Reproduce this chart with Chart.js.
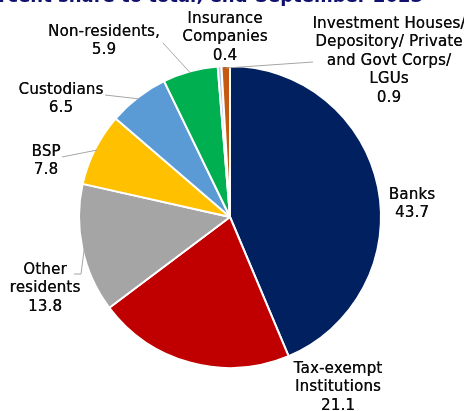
<!DOCTYPE html>
<html lang="en">

<head>
    <meta charset="UTF-8" />
    <title>Holders of government securities</title>
    <style>
        html, body { margin: 0; padding: 0; background: #fff; }
        #wrapper { width: 464px; height: 411px; position: relative; }
    </style>
</head>

<body>
    <div id="wrapper">
        <canvas id="chart"></canvas>
    </div>

    <script src="https://cdn.jsdelivr.net/npm/chart.js@4.4.0/dist/chart.umd.min.js"></script>
    <script>
        // holders, clockwise from 12 o'clock
        const holders = [
            ["Banks"],
            ["Tax-exempt", "Institutions"],
            ["Other", "residents"],
            ["BSP"],
            ["Custodians"],
            ["Non-residents,"],
            ["Insurance", "Companies"],
            ["Investment Houses/", "Depository/ Private", "and Govt Corps/", "LGUs"]
        ];
        const shares = [43.7, 21.1, 13.8, 7.8, 6.5, 5.9, 0.4, 0.9];
        const sliceColors = ["#002060", "#c00000", "#a5a5a5", "#ffc000", "#5b9bd5", "#00b050", "#b4c7e7", "#c55a11"];

        const titleText = "percent share to total; end-September 2023";

        // where each label block sits (centre x, first line y) and where its leader line ends
        const labelSpots = [
            { x: 412, y: 195 },
            { x: 338, y: 369 },
            { x: 45, y: 270, line: [[81, 274], [74, 274]] },
            { x: 46, y: 152, line: [[62, 157]] },
            { x: 61, y: 90, line: [[105, 95]] },
            { x: 104, y: 32, line: [[163, 43]] },
            { x: 225, y: 19 },
            { x: 389, y: 24, line: [[313, 62]] }
        ];

        const labelPlugin = {
            id: "sliceLabels",
            afterDatasetsDraw(chart) {
                const ctx = chart.ctx;
                const arcs = chart.getDatasetMeta(0).data;
                ctx.save();
                // leader lines
                ctx.strokeStyle = "#a6a6a6";
                ctx.lineWidth = 1;
                arcs.forEach((arc, i) => {
                    const spot = labelSpots[i];
                    if (!spot.line) return;
                    const mid = (arc.startAngle + arc.endAngle) / 2;
                    const r = arc.outerRadius - 2;
                    ctx.beginPath();
                    ctx.moveTo(arc.x + Math.cos(mid) * r, arc.y + Math.sin(mid) * r);
                    spot.line.forEach(p => ctx.lineTo(p[0], p[1]));
                    ctx.stroke();
                });
                // text
                ctx.fillStyle = "#0d0d0d";
                ctx.font = "15px 'DejaVu Sans'";
                ctx.letterSpacing = "0.2px";
                ctx.textAlign = "center";
                ctx.textBaseline = "middle";
                arcs.forEach((arc, i) => {
                    const spot = labelSpots[i];
                    const lines = holders[i].concat([shares[i].toFixed(1)]);
                    lines.forEach((t, k) => {
                        ctx.fillText(t, spot.x, spot.y + k * 18.5);
                        ctx.fillText(t, spot.x + 0.3, spot.y + k * 18.5);
                    });
                });
                // heading, mostly above the top edge
                ctx.letterSpacing = "0px";
                ctx.fillStyle = "#10106e";
                ctx.font = "bold 18px 'DejaVu Sans'";
                ctx.textAlign = "right";
                ctx.textBaseline = "alphabetic";
                ctx.fillText(titleText, 423, 2);
                ctx.restore();
            }
        };

        new Chart("chart", {
            type: "pie",
            data: {
                labels: holders.map(h => h.join(" ")),
                datasets: [{
                    data: shares,
                    backgroundColor: sliceColors,
                    borderColor: "#ffffff",
                    borderWidth: 2
                }]
            },
            options: {
                responsive: true,
                maintainAspectRatio: false,
                animation: false,
                layout: {
                    padding: { top: 65, bottom: 42, left: 78, right: 82 }
                },
                plugins: {
                    legend: { display: false },
                    tooltip: { enabled: false }
                }
            },
            plugins: [labelPlugin]
        });
    </script>
</body>

</html>
